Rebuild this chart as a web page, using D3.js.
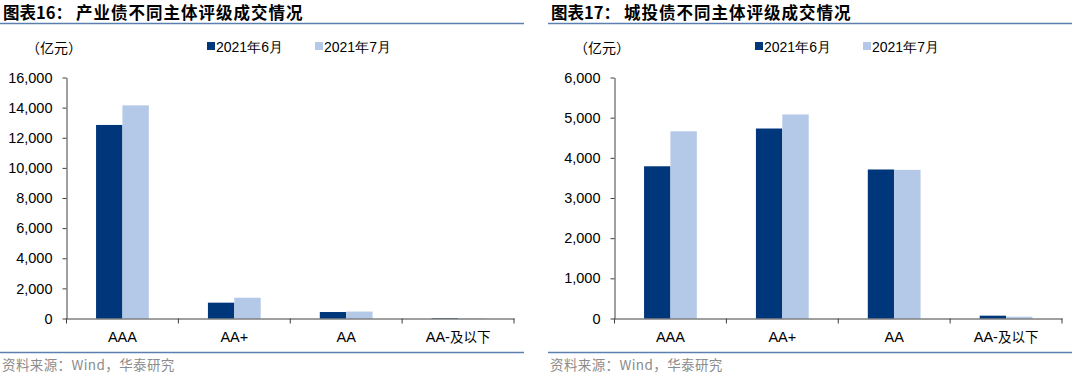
<!DOCTYPE html>
<html><head><meta charset="utf-8">
<script src="https://cdn.jsdelivr.net/npm/d3@7"></script>
<style>
html,body{margin:0;padding:0;background:#fff;}
svg{display:block;}
</style></head>
<body>
<svg id="c" width="1080" height="376"></svg>
<script>
const categories = ["AAA", "AA+", "AA", "AA-及以下"];
const seriesNames = ["2021年6月", "2021年7月"];
const industrialJun = [12850, 1050, 430, 30];
const industrialJul = [14150, 1380, 460, 20];
const urbanJun = [3790, 4730, 3710, 70];
const urbanJul = [4660, 5080, 3700, 45];
const industrialTicks = [0, 2000, 4000, 6000, 8000, 10000, 12000, 14000, 16000];
const urbanTicks = [0, 1000, 2000, 3000, 4000, 5000, 6000];
const colors = ["#00377a", "#b4c8e8"];

const svg = d3.select("#c");
const cjk = "'Noto Sans CJK SC', sans-serif";
const latin = "'Liberation Sans', Arial, sans-serif";

function panel(ox, label, title, jun, jul, ticks, ymax) {
  const g = svg.append("g").attr("transform", `translate(${ox},0)`);
  // title
  const tt = g.append("text").attr("y", 19)
    .attr("font-family", cjk).attr("font-weight", "bold").attr("font-size", 16.5)
    .attr("fill", "#000");
  tt.append("tspan").attr("x", 3).text(label);
  tt.append("tspan").attr("x", 76).attr("letter-spacing", 1).text(title);
  g.append("line").attr("x1", 0).attr("x2", 524).attr("y1", 23.5).attr("y2", 23.5)
    .attr("stroke", "#5b7fae").attr("stroke-width", 1.5);
  g.append("line").attr("x1", 0).attr("x2", 524).attr("y1", 352.5).attr("y2", 352.5)
    .attr("stroke", "#5b7fae").attr("stroke-width", 1.5);
  g.append("text").attr("x", 2).attr("y", 370)
    .attr("font-family", cjk).attr("font-size", 13.5).attr("fill", "#8c8c8c")
    .attr("letter-spacing", 0.4)
    .text("资料来源：Wind，华泰研究");
  // unit
  g.append("text").attr("x", 26).attr("y", 53)
    .attr("font-family", cjk).attr("font-size", 14).attr("fill", "#000").text("（亿元）");
  // legend
  const legX = [207, 315];
  seriesNames.forEach((n, i) => {
    g.append("rect").attr("x", legX[i]).attr("y", 42).attr("width", 8).attr("height", 8).attr("fill", colors[i]);
    g.append("text").attr("x", legX[i] + 9).attr("y", 52)
      .attr("font-family", latin).attr("font-size", 14).attr("fill", "#000").text(n);
  });

  const x0 = 66.5, x1 = 514, y0 = 318.5, y1 = 77.5;
  const x = d3.scaleBand().domain(categories).range([x0, x1]).paddingInner(0).paddingOuter(0);
  const xs = d3.scaleBand().domain([0, 1]).range([0, x.bandwidth()]).paddingInner(0).paddingOuter(1.12);
  const y = d3.scaleLinear().domain([0, ymax]).range([y0, y1]);

  const data = categories.map((c, i) => ({c, v: [jun[i], jul[i]]}));
  const groups = g.append("g").selectAll("g").data(data).join("g")
    .attr("transform", d => `translate(${x(d.c)},0)`);
  groups.selectAll("rect").data(d => d.v.map((v, k) => ({v, k}))).join("rect")
    .attr("x", d => xs(d.k)).attr("width", xs.bandwidth())
    .attr("y", d => y(d.v)).attr("height", d => y0 - y(d.v))
    .attr("fill", d => colors[d.k]);

  // y axis
  const ya = g.append("g").attr("transform", `translate(${x0},0)`)
    .call(d3.axisLeft(y).tickValues(ticks).tickSize(4).tickSizeOuter(0).tickFormat(d3.format(",")));
  ya.select(".domain").attr("stroke", "#404040");
  ya.selectAll(".tick line").attr("stroke", "#404040");
  ya.selectAll("text").attr("font-family", latin).attr("font-size", 14.5).attr("fill", "#000").attr("x", -14);

  // x axis
  const xa = g.append("g").attr("transform", `translate(0,${y0})`)
    .call(d3.axisBottom(x).tickSize(0).tickSizeOuter(0));
  xa.select(".domain").attr("stroke", "#404040");
  xa.selectAll("text").attr("font-family", latin).attr("font-size", 14.5).attr("fill", "#000").attr("dy", 0).attr("y", 23);
  const bnd = categories.map(c => x(c)).concat([x1]);
  xa.selectAll(".btick").data(bnd).join("line").attr("class", "btick")
    .attr("x1", d => d).attr("x2", d => d).attr("y1", 0).attr("y2", 5).attr("stroke", "#404040");
  xa.selectAll(".tick text").filter(d => d === "AA-及以下").text(null)
    .call(t => {
      t.append("tspan").attr("font-family", latin).text("AA-");
      t.append("tspan").attr("font-family", cjk).attr("font-size", 13.5).text("及以下");
    });
}

panel(0, "图表16：", "产业债不同主体评级成交情况", industrialJun, industrialJul, industrialTicks, 16000);
panel(548, "图表17：", "城投债不同主体评级成交情况", urbanJun, urbanJul, urbanTicks, 6000);
</script>
</body></html>
